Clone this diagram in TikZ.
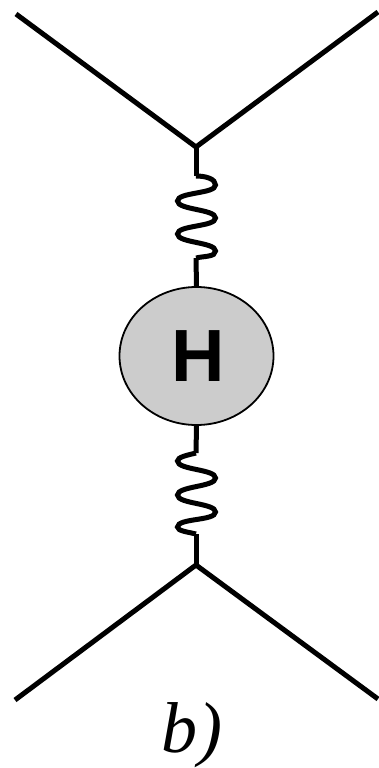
\documentclass[tikz,border=0pt]{standalone}
\usepackage{fontspec}
\setmainfont{Liberation Serif}
\setsansfont{Liberation Sans}
\usetikzlibrary{shapes.geometric}
\tikzset{
  leg/.style={line width=5pt,line join=miter},
  blob/.style={draw,ellipse,fill=black!20,line width=1.8pt,inner sep=0pt,minimum width=154pt,minimum height=138pt}
}
\begin{document}
\begin{tikzpicture}[x=1pt,y=-1pt]
  \useasboundingbox (0,0) rectangle (379,768);
  \coordinate (tl) at (16,14);
  \coordinate (tr) at (378,12);
  \coordinate (vt) at (196,147);
  \coordinate (bl) at (15,700);
  \coordinate (br) at (378,699);
  \coordinate (vb) at (196,565);
  \coordinate (w1) at (196,176);
  \coordinate (w2) at (196,258);
  \coordinate (w3) at (196,453);
  \coordinate (w4) at (196,534);
  \node[blob,font=\sffamily\bfseries\fontsize{74}{74}\selectfont] (h) at (196.5,356) {\kern3pt H};
  \draw[leg] (tl)--(vt)--(tr);
  \draw[leg] (bl)--(vb)--(br);
  \draw[leg] (vt)--(w1);
  \draw[leg] (w2)--(h.north);
  \draw[leg] (h.south)--(w3);
  \draw[leg] (w4)--(vb);
  % upper wiggle
  \draw[leg] (w1) .. controls +(10,0) and +(0,-6) .. (215.5,185)
    .. controls +(0,9) and +(0,-9) .. (177.5,201)
    .. controls +(0,9) and +(0,-9) .. (215.5,218)
    .. controls +(0,9) and +(0,-9) .. (177.5,234)
    .. controls +(0,9) and +(0,-9) .. (215.5,251)
    .. controls +(0,6) and +(8,-2) .. (w2);
  % lower wiggle
  \draw[leg] (w3) .. controls +(-8,2) and +(0,-4) .. (177.5,461)
    .. controls +(0,9) and +(0,-9) .. (215.5,478)
    .. controls +(0,9) and +(0,-9) .. (177.5,495)
    .. controls +(0,9) and +(0,-9) .. (215.5,512)
    .. controls +(0,9) and +(0,-9) .. (177.5,527)
    .. controls +(0,4) and +(-8,-2) .. (w4);
  \node[font=\itshape\fontsize{72}{72}\selectfont,anchor=base west,inner sep=0pt] (lbl) at (161,752) {b\kern1pt)};
\end{tikzpicture}
\end{document}
